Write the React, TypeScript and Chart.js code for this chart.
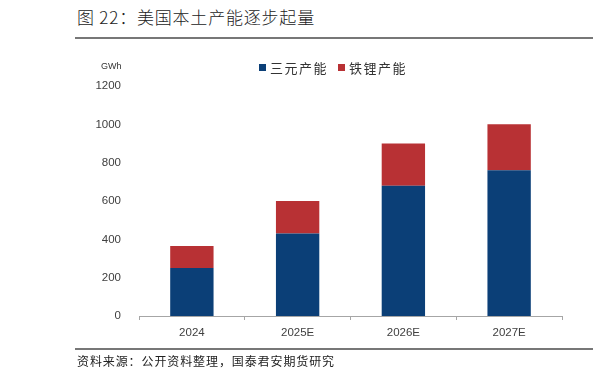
import React, { useEffect, useRef } from "react";
import { Chart, registerables } from "chart.js";

Chart.register(...registerables);

const categories = ["2024", "2025E", "2026E", "2027E"];
const ternaryValues = [250, 430, 680, 760];
const lfpValues = [115, 170, 220, 240];
const yTicks = [0, 200, 400, 600, 800, 1000, 1200];
const seriesNames = ["三元产能", "铁锂产能"];
const seriesColors = ["#0b3f77", "#b83134"];

const cjk = '"Noto Sans CJK SC", "Noto Sans", sans-serif';
const latin = '"Liberation Sans", Arial, sans-serif';

export default function App() {
  const ref = useRef<HTMLCanvasElement | null>(null);

  useEffect(() => {
    if (!ref.current) return;
    const chart = new Chart(ref.current, {
      type: "bar",
      data: {
        labels: categories,
        datasets: [
          { label: seriesNames[0], data: ternaryValues, backgroundColor: seriesColors[0], barPercentage: 0.41, categoryPercentage: 1 },
          { label: seriesNames[1], data: lfpValues, backgroundColor: seriesColors[1], barPercentage: 0.41, categoryPercentage: 1 },
        ],
      },
      options: {
        animation: false,
        responsive: false,
        maintainAspectRatio: false,
        layout: { padding: { left: 0, right: 31, top: 86, bottom: 40 } },
        plugins: { legend: { display: false }, tooltip: { enabled: false } },
        scales: {
          x: {
            stacked: true,
            grid: { display: true, drawOnChartArea: false, drawTicks: true, tickLength: 4, color: "#a6a6a6", offset: true },
            border: { display: true, color: "#a6a6a6", width: 1 },
            ticks: { color: "#404040", font: { family: latin, size: 11.5 }, padding: 6 },
            afterFit: (s: any) => { s.height = 30; },
          },
          y: {
            stacked: true,
            min: 0,
            max: 1200,
            afterBuildTicks: (s: any) => { s.ticks = yTicks.map((v) => ({ value: v })); },
            grid: { display: false },
            border: { display: false },
            ticks: { color: "#404040", font: { family: latin, size: 11.5 }, padding: 10, callback: (v: any) => String(v) },
            afterFit: (s: any) => { s.width = 139; },
          },
        },
      },
    });
    return () => chart.destroy();
  }, []);

  return (
    <div style={{ position: "fixed", left: 0, top: 0, width: 593, height: 386, background: "#fff", overflow: "hidden" }}>
      <div style={{ position: "absolute", left: 77, top: 4, fontFamily: cjk, fontSize: 17, fontWeight: 300, letterSpacing: 0.8, color: "#222", whiteSpace: "nowrap" }}>
        图 22：美国本土产能逐步起量
      </div>
      <div style={{ position: "absolute", left: 75, top: 37, width: 518, height: 2, background: "#777" }} />
      <canvas ref={ref} width={593} height={386} style={{ position: "absolute", left: 0, top: 0 }} />
      <div style={{ position: "absolute", left: 101, top: 61, fontFamily: latin, fontSize: 9, color: "#333" }}>GWh</div>
      <div style={{ position: "absolute", left: 259, top: 58, display: "flex", alignItems: "center", fontFamily: cjk, fontSize: 13, letterSpacing: 1.5, color: "#333", whiteSpace: "nowrap" }}>
        <span style={{ display: "inline-block", width: 7, height: 7, background: seriesColors[0], marginRight: 4 }} />
        <span>{seriesNames[0]}</span>
        <span style={{ display: "inline-block", width: 7, height: 7, background: seriesColors[1], marginLeft: 10, marginRight: 4 }} />
        <span>{seriesNames[1]}</span>
      </div>
      <div style={{ position: "absolute", left: 75, top: 348, width: 518, height: 2, background: "#777" }} />
      <div style={{ position: "absolute", left: 77, top: 352, fontFamily: cjk, fontSize: 12, letterSpacing: 0.9, color: "#222", whiteSpace: "nowrap" }}>
        资料来源：公开资料整理，国泰君安期货研究
      </div>
    </div>
  );
}
